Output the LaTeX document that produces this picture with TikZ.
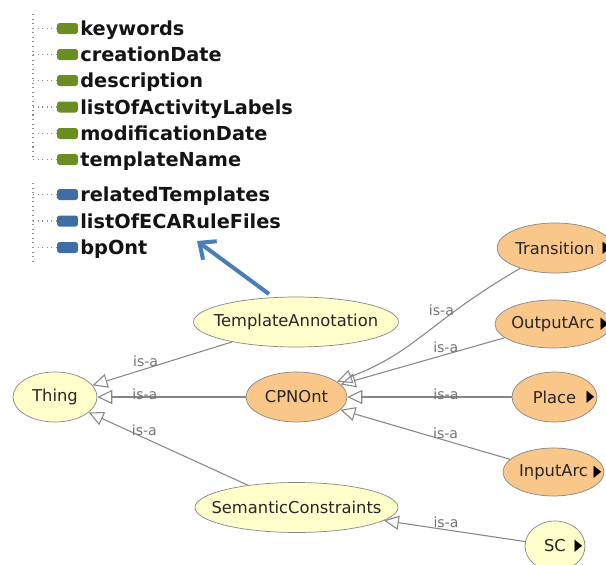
\documentclass[tikz,border=0pt]{standalone}
\usepackage{fontspec}
\setmainfont{DejaVu Sans}
\usetikzlibrary{arrows.meta,shapes.geometric}
\definecolor{clsyel}{HTML}{FFFFCC}
\definecolor{clsorg}{HTML}{FAC78B}
\definecolor{linegray}{HTML}{868686}
\definecolor{dpgreen}{HTML}{6B8E23}
\definecolor{opblue}{HTML}{3D6FA6}
\definecolor{ptrblue}{HTML}{4A7EBB}
\newcommand{\clsname}[1]{\makebox[0pt][c]{#1}}

\begin{document}
\begin{tikzpicture}[x=0.02cm,y=-0.02cm,
  cls/.style={ellipse,draw=linegray,inner sep=0pt,minimum height=1cm,
    font=\fontsize{9.3}{11}\selectfont,text=black!85},
  sub/.style={label={[anchor=east,inner sep=1.5pt,font=\fontsize{9.3}{11}\selectfont]east:{\scalebox{0.62}[1]{▶}}}},
  isa/.style={draw=linegray,line width=0.6pt,-{Triangle[open,length=8.5pt,width=8pt]}},
  lbl/.style={font=\fontsize{8}{9}\selectfont,text=black!55,above,inner sep=1pt},
  attr/.style={anchor=west,inner sep=0pt,text height=8.4pt,text depth=2.3pt,yshift=-1pt,
    font=\fontsize{11}{13}\selectfont\bfseries,text=black!92},
  pbox/.style={rounded corners=1.5pt,minimum width=0.42cm,minimum height=0.22cm,inner sep=0pt},
  tree/.style={draw=black!45,dotted,line width=0.6pt},
  pointer/.style={draw=ptrblue,line width=2.3pt,-{Straight Barb[length=2.6mm,width=4.6mm]}}]
\path[use as bounding box,fill=white] (0,0) rectangle (606,565);
\clip (0,0) rectangle (606,565);

\draw[tree] (33,14) -- (33,160);
\foreach \y/\t [count=\i] in {28.5/keywords,54.5/creationDate,80.5/description,
    107/listOfActivityLabels,133.5/modificationDate,159.5/templateName} {
  \node[pbox,fill=dpgreen] (dbox\i) at (67.5,\y) {};
  \node[attr] (dp\i) at (80,\y) {\t};
  \draw[tree] (33,\y) -- (dbox\i);
}
\draw[tree] (33,183) -- (33,263);
\foreach \y/\t [count=\i] in {194.5/relatedTemplates,221/listOfECARuleFiles,247.5/bpOnt} {
  \node[pbox,fill=opblue] (obox\i) at (67.5,\y) {};
  \node[attr] (op\i) at (80,\y) {\t};
  \draw[tree] (33,\y) -- (obox\i);
}

\node[cls,fill=clsyel,minimum width=1.68cm] (thing) at (55,397) {\clsname{Thing}};
\node[cls,fill=clsyel,minimum width=4.1cm] (tann) at (296,322) {\clsname{TemplateAnnotation}};
\node[cls,fill=clsorg,minimum width=2.02cm] (cpn) at (296.5,397) {\clsname{CPNOnt}};
\node[cls,fill=clsyel,minimum width=4.06cm] (semc) at (296.5,507.5) {\clsname{SemanticConstraints}};
\node[cls,sub,fill=clsorg,minimum width=2.32cm] (trans) at (555,248) {\clsname{Transition}};
\node[cls,sub,fill=clsorg,minimum width=2.32cm,minimum height=0.96cm] (outarc) at (553,324) {\clsname{OutputArc}};
\node[cls,sub,fill=clsorg,minimum width=1.7cm] (place) at (554.5,397) {\clsname{Place}};
\node[cls,sub,fill=clsorg,minimum width=2.02cm,minimum height=0.96cm] (inarc) at (553.5,472) {\clsname{InputArc}};
\node[cls,sub,fill=clsyel,minimum width=1.2cm] (sc) at (555,546) {\clsname{SC}};

\draw[isa] (tann) -- node[lbl,pos=0.62] {is-a} (thing);
\draw[isa] (cpn) -- node[lbl,pos=0.68,yshift=-3pt] {is-a} (thing);
\draw[isa] (semc) -- node[lbl,pos=0.65] {is-a} (thing);
\draw[isa] (trans) .. controls (428,322) and (416,352) .. node[lbl,pos=0.36,xshift=-2pt] {is-a} (cpn);
\draw[isa] (outarc) -- node[lbl,pos=0.36] {is-a} (cpn);
\draw[isa] (place) -- node[lbl,pos=0.4,yshift=-3pt] {is-a} (cpn);
\draw[isa] (inarc) -- node[lbl,pos=0.38] {is-a} (cpn);
\draw[isa] (sc) -- node[lbl,pos=0.56] {is-a} (semc);

\coordinate (ptrtail) at (269,294);
\coordinate (ptrtip) at (197,241);
\draw[pointer] (ptrtail) -- (ptrtip);
\end{tikzpicture}
\end{document}
